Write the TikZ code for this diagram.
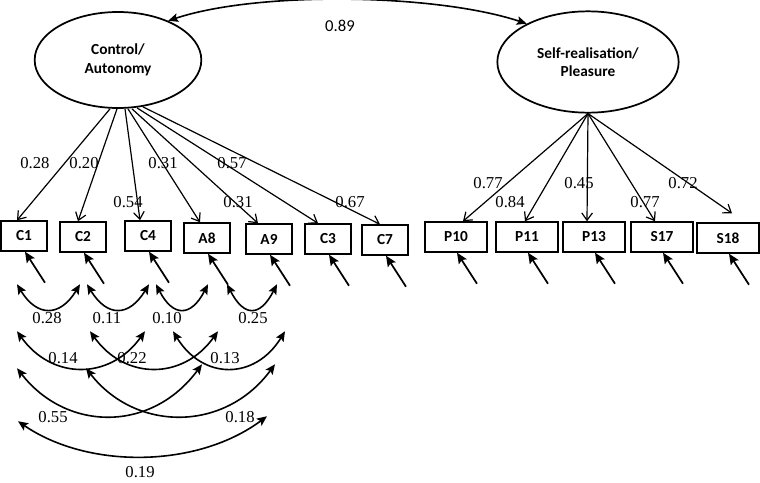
\documentclass[tikz,border=0pt]{standalone}
\usepackage{fontspec}
\setmainfont{Liberation Serif}
\newfontfamily\boxfont{Carlito}
\usetikzlibrary{arrows.meta,shapes.geometric}
\tikzset{
  latent/.style={draw, ellipse, line width=1.3pt, align=center, inner sep=0pt,
    font=\boxfont\bfseries\fontsize{11.5}{14}\selectfont},
  item/.style={draw, rectangle, line width=1.6pt, minimum width=34pt, minimum height=22pt,
    inner sep=0pt, font=\boxfont\bfseries\fontsize{11.5}{13}\selectfont},
  wideitem/.style={item, minimum width=46pt},
  load/.style={-{Straight Barb[length=5.5pt,width=8pt]}, line width=0.9pt},
  err/.style={-{Stealth[length=8pt,width=7pt,inset=1.5pt]}, line width=1.3pt},
  cov/.style={{Stealth[length=7.5pt,width=6.5pt,inset=1.5pt]}-{Stealth[length=7.5pt,width=6.5pt,inset=1.5pt]}, line width=1.2pt},
  coef/.style={inner sep=0pt, font=\fontsize{12.5}{14}\selectfont}
}
\begin{document}
\begin{tikzpicture}[x=0.75pt, y=-0.75pt]
    \useasboundingbox (0,0) rectangle (760,482);
    % latente Faktoren
    \node[latent, minimum width=125pt, minimum height=72pt] (cA) at (118,60) {Control/\\Autonomy};
    \node[latent, minimum width=136pt, minimum height=76pt] (cB) at (588,62) {Self-realisation/\\Pleasure};
    \draw[cov] (cA.38) .. controls +(90,-30) and +(-90,-30) .. (cB.148);
    \node[coef, font=\boxfont\fontsize{12.5}{14}\selectfont] (r89) at (340,26) {0.89};
    % Items links
    \node[item] (C1) at (24,236) {C1};
    \node[item] (C2) at (83,237) {C2};
    \node[item] (C4) at (148,236) {C4};
    \node[item] (A8) at (207,238) {A8};
    \node[item] (A9) at (269,239) {A9};
    \node[item] (C3) at (328,239) {C3};
    \node[item] (C7) at (385,240) {C7};
    % Items rechts
    \node[wideitem] (P10) at (456,237) {P10};
    \node[wideitem] (P11) at (527,237) {P11};
    \node[wideitem] (P13) at (594,237) {P13};
    \node[wideitem] (S17) at (662,237) {S17};
    \node[wideitem] (S18) at (728,238) {S18};
    % Ladungen
    \draw[load] ([shift={(-8,0)}]cA.south) -- ([shift={(-7,0)}]C1.north);
    \draw[load] ([shift={(-1,0)}]cA.south) -- ([shift={(-5,0)}]C2.north);
    \draw[load] ([shift={(7,0)}]cA.south) -- ([shift={(-8,0)}]C4.north);
    \draw[load] ([shift={(10,0)}]cA.south) -- ([shift={(-7,0)}]A8.north);
    \draw[load] ([shift={(14,0)}]cA.south) -- ([shift={(-11,0)}]A9.north);
    \draw[load] ([shift={(19,-1)}]cA.south) -- ([shift={(-10,0)}]C3.north);
    \draw[load] ([shift={(25,-2)}]cA.south) -- ([shift={(-5,0)}]C7.north);
    \draw[load] (cB.south) -- ([shift={(7,0)}]P10.north);
    \draw[load] (cB.south) -- ([shift={(-2,0)}]P11.north);
    \draw[load] (cB.south) -- ([shift={(-7,0)}]P13.north);
    \draw[load] (cB.south) -- ([shift={(-7,0)}]S17.north);
    \draw[load] (cB.south) -- ([shift={(4,-9)}]S18.north);
    \node[coef] at (35,163) {0.28};
    \node[coef] at (84,163) {0.20};
    \node[coef] at (128,202) {0.54};
    \node[coef] at (163,163) {0.31};
    \node[coef] at (232,163) {0.57};
    \node[coef] at (238,202) {0.31};
    \node[coef] at (350,202) {0.67};
    \node[coef] at (488,183) {0.77};
    \node[coef] at (510,202) {0.84};
    \node[coef] at (579,183) {0.45};
    \node[coef] at (645,202) {0.77};
    \node[coef] at (683,183) {0.72};
    % Fehlerterme
    \foreach \n in {C1,C2,C4,A8,A9,C3,C7,P10,P11,P13,S17,S18}
      \draw[err] ([shift={(21,31)}]\n.south) -- ([shift={(1,0)}]\n.south);
    % Fehlerkovarianzen
    \draw[cov] ([shift={(-7,32.5)}]C1.south) .. controls +(20,33) and +(-20,33) .. ([shift={(-3,31.5)}]C2.south);
    \draw[cov] ([shift={(4,31.5)}]C2.south) .. controls +(20,33) and +(-20,33) .. ([shift={(1,32.5)}]C4.south);
    \draw[cov] ([shift={(8,32.5)}]C4.south) .. controls +(17,33) and +(-17,33) .. ([shift={(1,30.5)}]A8.south);
    \draw[cov] ([shift={(20,30.5)}]A8.south) .. controls +(17,33) and +(-17,33) .. ([shift={(8,29.5)}]A9.south);
    \draw[cov] ([shift={(-7,79.5)}]C1.south) .. controls +(35,49) and +(-35,49) .. ([shift={(-3,79.5)}]C4.south);
    \draw[cov] ([shift={(7,78.5)}]C2.south) .. controls +(35,49) and +(-35,49) .. ([shift={(11,77.5)}]A8.south);
    \draw[cov] ([shift={(25,79.5)}]C4.south) .. controls +(30,49) and +(-30,49) .. ([shift={(16,76.5)}]A9.south);
    \draw[cov] ([shift={(-7,116.5)}]C1.south) .. controls +(50,64) and +(-50,68) .. ([shift={(-5,110.5)}]A8.south);
    \draw[cov] ([shift={(3,115.5)}]C2.south) .. controls +(50,64) and +(-50,68) .. ([shift={(6,109.5)}]A9.south);
    \draw[cov] ([shift={(-6,169.5)}]C1.south) .. controls +(70,48) and +(-70,52) .. ([shift={(-2,161.5)}]A9.south);
    \node[coef] at (47,318) {0.28};
    \node[coef] at (107,318) {0.11};
    \node[coef] at (167,318) {0.10};
    \node[coef] at (253,318) {0.25};
    \node[coef] at (63,358) {0.14};
    \node[coef] at (132,358) {0.22};
    \node[coef] at (225,358) {0.13};
    \node[coef] at (53,417) {0.55};
    \node[coef] at (240,417) {0.18};
    \node[coef] at (140,472) {0.19};
\end{tikzpicture}
\end{document}
